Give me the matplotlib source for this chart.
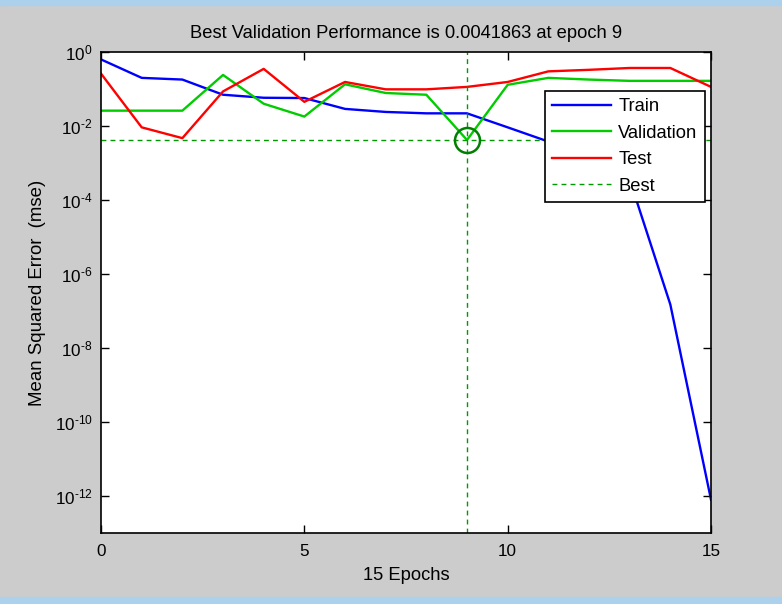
import math
import matplotlib
matplotlib.use("Agg")
import matplotlib.pyplot as plt
from matplotlib.patches import Rectangle
from matplotlib.ticker import FixedLocator, FuncFormatter

plt.rcParams['font.family'] = ['Liberation Sans', 'DejaVu Sans']
plt.rcParams['mathtext.default'] = 'regular'

epochs = list(range(16))
train = [0.63, 0.2, 0.18, 0.07, 0.058, 0.057, 0.029, 0.024, 0.022, 0.022,
         0.0092, 0.0038, 0.0015, 3.6e-4, 1.5e-7, 8e-13]
validation = [0.026, 0.026, 0.026, 0.24, 0.04, 0.018, 0.134, 0.078, 0.070, 0.0041863,
              0.13, 0.2, 0.18, 0.166, 0.166, 0.166]
test = [0.26, 0.0092, 0.0047, 0.086, 0.35, 0.045, 0.155, 0.098, 0.098, 0.114,
        0.155, 0.30, 0.33, 0.37, 0.37, 0.114]
best_epoch = 9
best_value = 0.0041863
ytick_exps = [0, -2, -4, -6, -8, -10, -12]
xticks = [0, 5, 10, 15]

fig = plt.figure(figsize=(7.82, 6.04), dpi=100, facecolor=(0.8, 0.8, 0.8))
# window chrome strips
fig.patches.append(Rectangle((0, 0.991), 1, 0.009, transform=fig.transFigure,
                             color=(0.67, 0.82, 0.93), zorder=0))
fig.patches.append(Rectangle((0, 0), 1, 0.012, transform=fig.transFigure,
                             color=(0.67, 0.82, 0.93), zorder=0))

ax = fig.add_axes([0.1292, 0.1175, 0.78, 0.7964])
ax.set_facecolor('white')

ax.plot(epochs, train, color=(0, 0, 1), lw=1.7, label='Train')
ax.plot(epochs, validation, color=(0, 0.8, 0), lw=1.7, label='Validation')
ax.plot(epochs, test, color=(1, 0, 0), lw=1.7, label='Test')
ax.axhline(best_value, color=(0, 0.6, 0), lw=1, ls=(0, (3.5, 3)), label='Best')
ax.axvline(best_epoch, color=(0, 0.6, 0), lw=1, ls=(0, (3.5, 3)))
ax.plot([best_epoch], [best_value], marker='o', ms=18, mfc='none',
        mec=(0, 0.5, 0), mew=1.8, ls='none')

ax.set_yscale('log')
ax.set_xlim(0, 15)
ax.set_ylim(1e-13, 1)
ax.xaxis.set_major_locator(FixedLocator(xticks))
ax.yaxis.set_major_locator(FixedLocator([10.0 ** e for e in ytick_exps]))
ax.yaxis.set_minor_locator(FixedLocator([]))
ax.xaxis.set_minor_locator(FixedLocator([]))


def fmt(v, p):
    e = round(math.log10(v))
    s = str(e).replace('-', '\u2010')
    return r'$10^{%s}$' % s


ax.yaxis.set_major_formatter(FuncFormatter(fmt))
ax.tick_params(direction='in', length=6, width=1, top=True, right=True,
               labelsize=12.3, colors='black')
ax.tick_params(axis='x', pad=8)
ax.tick_params(axis='y', pad=6)
for s in ax.spines.values():
    s.set_linewidth(1.2)
    s.set_color('black')

ax.set_title('Best Validation Performance is 0.0041863 at epoch 9', fontsize=13.2, pad=10)
ax.set_xlabel('15 Epochs', fontsize=13.2, labelpad=6)
ax.set_ylabel('Mean Squared Error  (mse)', fontsize=13.4, labelpad=6)

leg = ax.legend(loc='upper right', bbox_to_anchor=(0.990, 0.919), fontsize=13.2,
                frameon=True, fancybox=False, framealpha=1, edgecolor='black',
                handlelength=3.2, labelspacing=0.52, borderpad=0.4, handletextpad=0.4,
                borderaxespad=0)
leg.get_frame().set_linewidth(1.2)

fig.savefig('out.png', dpi=100, facecolor=fig.get_facecolor())
